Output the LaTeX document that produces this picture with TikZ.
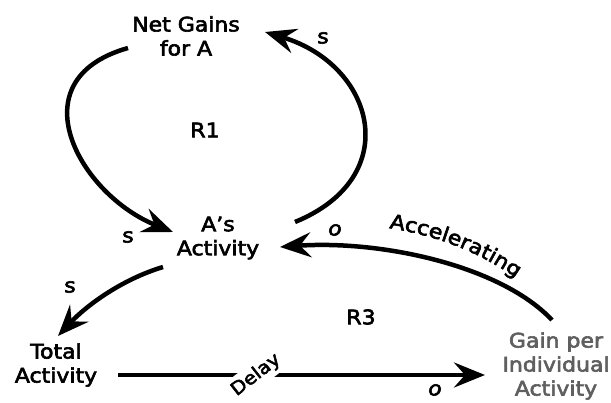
\documentclass[tikz,border=0pt]{standalone}
\usepackage{fontspec}
\setmainfont{DejaVu Sans}[FakeStretch=1.1, FakeBold=3]
\usetikzlibrary{arrows.meta,decorations.text}
\definecolor{gainGray}{RGB}{95,95,95}

\begin{document}
\begin{tikzpicture}[x=1pt,y=1pt,
  var/.style={font=\fontsize{20}{24}\selectfont, align=center, inner sep=0pt},
  loopname/.style={font=\fontsize{20}{24}\selectfont, inner sep=0pt},
  pol/.style={font=\fontsize{20}{24}\selectfont, inner sep=0pt},
  link/.style={line width=4.5pt, -{Stealth[length=31pt,width=25pt,inset=11pt]}}
]
\useasboundingbox (0,0) rectangle (611,402);

% variables
\node[var] (net)  at (186,366) {Net Gains\\for A};
\node[var] (act)  at (218,164) {A’s\\Activity};
\node[var] (tot)  at (56,37)   {Total\\Activity};
\node[var, text=gainGray] (gain) at (556,36) {Gain per\\Individual\\Activity};

% loop names
\node[loopname] (r1) at (205,272) {R1};
\node[loopname] (r3) at (361,85)  {R3};

% R1: net gains -> activity -> net gains
\draw[link] ([shift={(-58,-12)}]net.center)
  .. controls (15,322) and (80,207) .. ([shift={(-45,6)}]act.center);
\draw[link] ([shift={(77,16)}]act.center)
  .. controls (405,225) and (375,337) .. ([shift={(79,4)}]net.center);

% R3: activity -> total -> gain -> activity
\draw[link] ([shift={(-55,-29)}]act.center)
  .. controls (120,122) and (85,95) .. ([shift={(2,29)}]tot.center);
\draw[link] ([shift={(62,-10)}]tot.center) -- ([shift={(-71,-9)}]gain.center);
\draw[link] ([shift={(-4,46)}]gain.center)
  .. controls (500,137) and (380,162) .. ([shift={(62,-9)}]act.center);

% delay mark cutting the link
\node[font=\fontsize{18}{22}\selectfont, fill=white, inner sep=4pt, rotate=38] (dl) at (256,27) {Delay};

% link polarities
\node[pol] (s1) at (128,165) {s};
\node[pol] (s2) at (323,364) {s};
\node[pol] (s3) at (70,115)  {s};
\node[pol, font=\fontsize{20}{24}\selectfont\itshape] (o1) at (335,172) {o};
\node[pol, font=\fontsize{20}{24}\selectfont\itshape] (o2) at (435,12)  {o};

% label bent along the accelerating link
\path[decorate, decoration={text along path, text align=center,
      text={|\fontsize{20}{24}\selectfont|Accelerating}}]
  (372,176) .. controls (430,170) and (480,152) .. (530,114);
\end{tikzpicture}
\end{document}
